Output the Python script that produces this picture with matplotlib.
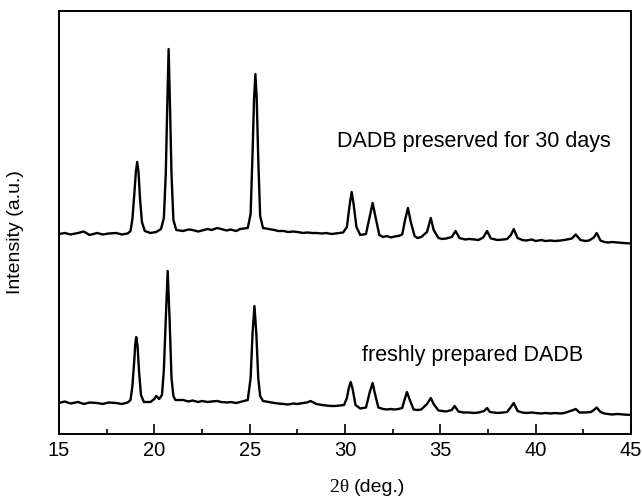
import matplotlib
matplotlib.use("Agg")
import matplotlib.pyplot as plt

# ---- data (2theta in deg, intensity in a.u.) ----
aged_x = [15.0, 15.3, 15.6, 16.0, 16.3, 16.6, 17.0, 17.3, 17.6, 18.0, 18.3, 18.6, 18.75,
          18.85, 18.95, 19.03, 19.1, 19.17, 19.25, 19.35, 19.5, 19.8, 20.1, 20.35, 20.5,
          20.6, 20.68, 20.75, 20.82, 20.9, 21.0, 21.15, 21.5, 21.8, 22.0, 22.3, 22.5, 22.8,
          23.0, 23.3, 23.5, 23.8, 24.0, 24.3, 24.5, 24.9, 25.05, 25.15, 25.23, 25.3, 25.37,
          25.45, 25.55, 25.7, 26.0, 26.3, 26.5, 26.8, 27.0, 27.3, 27.5, 27.8, 28.0, 28.3,
          28.5, 28.8, 29.0, 29.3, 29.5, 29.9, 30.1, 30.25, 30.35, 30.45, 30.6, 30.8, 31.1,
          31.3, 31.45, 31.6, 31.8, 32.0, 32.2, 32.4, 32.6, 32.8, 33.0, 33.15, 33.3, 33.45,
          33.65, 33.8, 34.0, 34.3, 34.5, 34.65, 34.9, 35.1, 35.3, 35.6, 35.8, 36.0, 36.3,
          36.5, 36.8, 37.0, 37.25, 37.45, 37.65, 38.0, 38.3, 38.5, 38.7, 38.85, 39.05, 39.3,
          39.5, 39.8, 40.0, 40.3, 40.5, 40.8, 41.0, 41.3, 41.5, 41.9, 42.1, 42.35, 42.6,
          42.8, 43.05, 43.2, 43.4, 43.6, 43.8, 44.0, 44.3, 44.6, 45.0]
aged_y = [2000, 2010, 1995, 2010, 2025, 1990, 2010, 1995, 2005, 2010, 1995, 2005, 2030,
          2150, 2400, 2620, 2720, 2620, 2350, 2120, 2030, 2010, 2020, 2050, 2160,
          2600, 3300, 3850, 3300, 2600, 2140, 2040, 2030, 2045, 2040, 2025, 2035, 2050,
          2040, 2060, 2050, 2035, 2045, 2030, 2050, 2060, 2200, 2800, 3350, 3600, 3350,
          2750, 2180, 2060, 2050, 2040, 2030, 2030, 2020, 2025, 2020, 2010, 2015, 2010,
          2010, 2005, 2010, 2000, 2005, 2015, 2070, 2300, 2420, 2300, 2070, 1990, 2000,
          2180, 2310, 2170, 1990, 1970, 1980, 1965, 1975, 1980, 1995, 2140, 2260, 2120,
          1980, 1960, 1970, 2020, 2160, 2040, 1960, 1950, 1955, 1970, 2030, 1960, 1945,
          1950, 1945, 1940, 1965, 2030, 1955, 1940, 1945, 1950, 1990, 2050, 1960, 1940,
          1935, 1945, 1930, 1940, 1930, 1935, 1930, 1935, 1940, 1955, 1995, 1940, 1930,
          1935, 1965, 2010, 1935, 1920, 1915, 1920, 1915, 1910, 1905]

fresh_x = [15.0, 15.3, 15.6, 16.0, 16.3, 16.6, 17.0, 17.3, 17.6, 18.0, 18.3, 18.6, 18.75,
           18.85, 18.95, 19.0, 19.05, 19.12, 19.2, 19.3, 19.45, 19.8, 20.0, 20.1, 20.25,
           20.4, 20.5, 20.6, 20.7, 20.8, 20.9, 21.0, 21.1, 21.5, 21.8, 22.0, 22.3, 22.5,
           22.8, 23.0, 23.3, 23.5, 23.8, 24.0, 24.3, 24.5, 24.9, 25.05, 25.15, 25.25, 25.35,
           25.45, 25.55, 25.7, 26.0, 26.3, 26.5, 26.8, 27.0, 27.3, 27.5, 27.8, 28.0, 28.2,
           28.5, 28.8, 29.0, 29.3, 29.5, 29.95, 30.1, 30.2, 30.3, 30.4, 30.55, 30.8, 31.1,
           31.3, 31.45, 31.55, 31.75, 32.0, 32.2, 32.4, 32.6, 32.8, 33.0, 33.15, 33.25,
           33.4, 33.6, 33.8, 34.0, 34.3, 34.5, 34.65, 34.9, 35.1, 35.3, 35.6, 35.75, 35.95,
           36.2, 36.5, 36.8, 37.0, 37.3, 37.45, 37.6, 38.0, 38.3, 38.5, 38.7, 38.85, 39.05,
           39.3, 39.5, 39.8, 40.0, 40.3, 40.5, 40.8, 41.0, 41.3, 41.5, 41.9, 42.1, 42.3,
           42.6, 42.9, 43.05, 43.2, 43.4, 43.6, 43.8, 44.0, 44.3, 44.6, 45.0]
fresh_y = [310, 325, 305, 320, 300, 315, 310, 300, 315, 310, 300, 315, 340,
           480, 740, 900, 970, 880, 620, 390, 320, 320, 350, 380, 350,
           390, 640, 1150, 1630, 1150, 560, 380, 340, 340, 325, 335, 320, 330,
           320, 325, 330, 320, 315, 320, 310, 320, 340, 560, 1000, 1280, 1000,
           560, 380, 330, 320, 310, 305, 300, 295, 305, 300, 310, 315, 330,
           300, 290, 285, 280, 280, 290, 360, 460, 520, 450, 290, 255, 265,
           420, 510, 420, 265, 250, 245, 250, 245, 250, 260, 360, 420,
           340, 245, 240, 245, 300, 360, 300, 235, 230, 225, 240, 280, 225,
           215, 215, 210, 215, 230, 260, 220, 210, 215, 220, 270, 310, 230,
           215, 210, 215, 210, 205, 210, 205, 210, 205, 210, 235, 250, 215,
           215, 220, 240, 265, 220, 205, 200, 195, 200, 195, 190]

x_ticks = [15, 20, 25, 30, 35, 40, 45]
label_aged = "DADB preserved for 30 days"
label_fresh = "freshly prepared DADB"

plt.rcParams['font.family'] = ['Liberation Sans', 'DejaVu Sans']

fig = plt.figure(figsize=(6.42, 4.96), dpi=100)
ax = fig.add_axes([59 / 642, 1 - 434 / 496, 572 / 642, 423 / 496])

ax.plot(aged_x, aged_y, color='black', lw=1.7)
ax.plot(fresh_x, fresh_y, color='black', lw=1.7)

ax.set_xlim(15, 45)
ax.set_ylim(0, 4230)
ax.set_xticks(x_ticks)
ax.set_xticks([t + 2.5 for t in x_ticks[:-1]], minor=True)
ax.set_yticks([])
ax.tick_params(axis='x', which='major', direction='in', length=7, width=1.2,
               labelsize=14.5, pad=5)
ax.tick_params(axis='x', which='minor', direction='in', length=3.5, width=1.2)
for sp in ax.spines.values():
    sp.set_linewidth(1.4)

ax.text(29.58, 2920, label_aged, fontsize=15.5, ha='left', va='center')
ax.text(30.9, 780, label_fresh, fontsize=15.5, ha='left', va='center')

fig.text(16 / 642, 1 - 232 / 496, "Intensity (a.u.)", rotation=90, fontsize=14,
         ha='center', va='center')
# x label: serif "2θ" followed by sans "(deg.)"
t1 = fig.text(354 / 642, 9 / 496, "2\u03b8 ", fontsize=14, ha='right', va='center',
              family=['Liberation Serif', 'DejaVu Serif'])
t2 = fig.text(354 / 642, 9 / 496, "(deg.)", fontsize=14, ha='left', va='center')

fig.savefig("out.png", dpi=100)
